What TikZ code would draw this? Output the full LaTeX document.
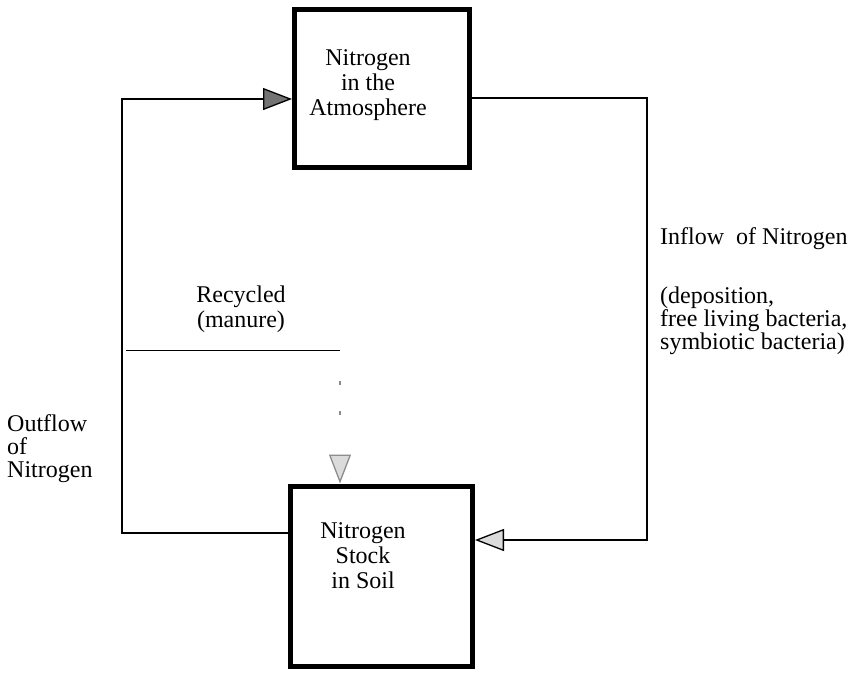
\documentclass[tikz,border=0pt]{standalone}
\usepackage{fontspec}
\setmainfont{Liberation Serif}
\usetikzlibrary{arrows.meta,positioning}
\definecolor{tipdark}{gray}{0.45}
\definecolor{tiplight}{gray}{0.86}
\definecolor{faint}{gray}{0.55}
\tikzset{
  stockbox/.style={
    rectangle, draw=black, line width=5pt,
    minimum width=175pt, minimum height=158pt, inner sep=0pt
  },
  boxtext/.style={inner sep=0pt, align=center, font=\fontsize{24}{25}\selectfont},
  flowtext/.style={inner sep=0pt, align=left, font=\fontsize{24}{23}\selectfont},
  flowline/.style={line width=1.3pt, color=black},
  darktip/.style={-{Triangle[length=29pt, width=22pt, fill=tipdark]}},
  lighttip/.style={-{Triangle[length=29pt, width=22pt, fill=tiplight]}},
}

\begin{document}
\begin{tikzpicture}[x=1pt, y=-1pt]
  \useasboundingbox (0,0) rectangle (856,673);

  \node[stockbox] (atmo) at (382,88.5) {};
  \node[stockbox, minimum width=182pt, minimum height=180pt] (soil) at (381.5,576) {};
  \node[boxtext] (atmotext) at (368,85) {Nitrogen\\ in the\\ Atmosphere};
  \node[boxtext] (soiltext) at (363,556) {Nitrogen\\ Stock\\ in Soil};

  \node[flowtext, anchor=north west] (inflow) at (660,227)
    {Inflow\ \ of Nitrogen\\[36pt] (deposition,\\ free living bacteria,\\ symbiotic bacteria)};
  \node[flowtext, anchor=north west] (outflow) at (7,414) {Outflow\\ of\\ Nitrogen};
  \node[boxtext, anchor=north] (recycled) at (241,286) {Recycled\\ (manure)};

  % outflow loop on the left
  \coordinate (outBend) at (122,533);
  \coordinate (outTop) at (122,99);
  \draw[flowline, darktip] (soil.west |- outBend) -- (outBend) -- (outTop) -- (atmo.west |- outTop);

  % inflow loop on the right
  \coordinate (inTop) at (647,98);
  \coordinate (inBend) at (647,540);
  \draw[flowline, lighttip] (atmo.east |- inTop) -- (inTop) -- (inBend) -- (soil.east |- inBend);

  % recycled manure
  \coordinate (recStart) at (126,350);
  \coordinate (recEnd) at (340,350);
  \draw[flowline, line width=0.9pt] (recStart) -- (recEnd);
  \draw[flowline, draw=faint, lighttip, dash pattern=on 0pt off 31pt on 4pt off 26pt on 4pt off 100pt]
    (recEnd) -- (recEnd |- soil.north);
\end{tikzpicture}
\end{document}
